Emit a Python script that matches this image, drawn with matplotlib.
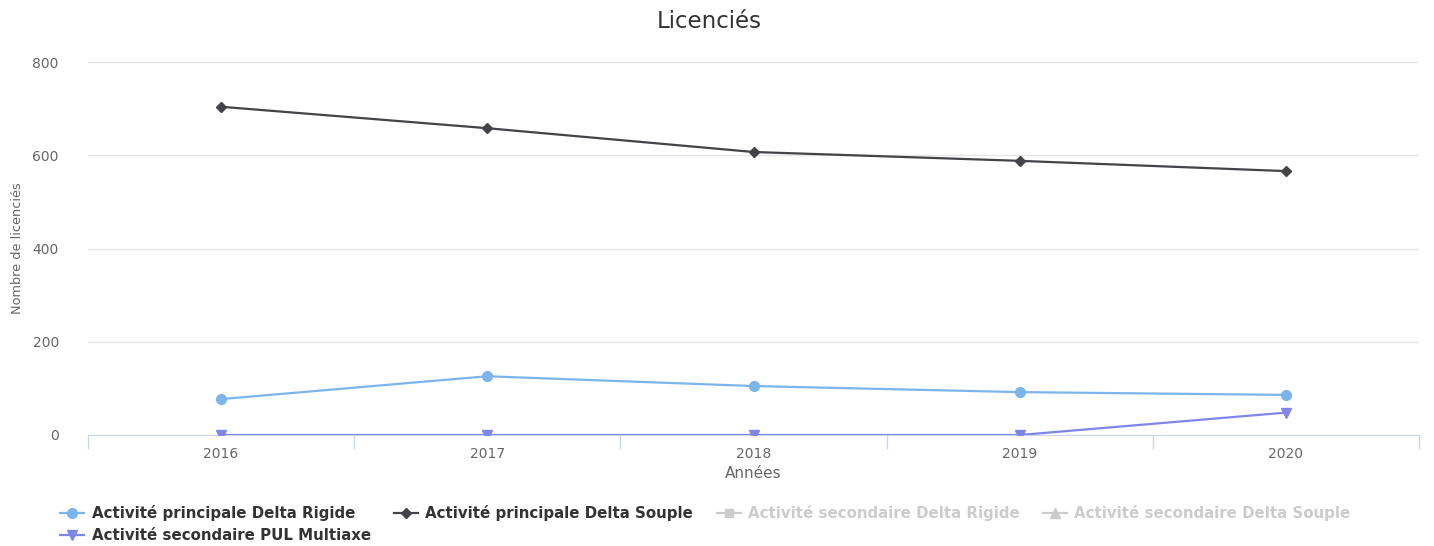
import matplotlib.pyplot as plt
from matplotlib.lines import Line2D
from matplotlib.ticker import FixedLocator

years = ["2016", "2017", "2018", "2019", "2020"]
delta_rigide = [77, 126, 105, 92, 86]
delta_souple = [704, 658, 607, 588, 566]
pul_multiaxe = [0, 0, 0, 0, 48]

y_ticks = [0, 200, 400, 600, 800]

fig = plt.figure(figsize=(14.34, 5.46), dpi=100)
ax = fig.add_axes([88 / 1434, 1 - 435 / 546, (1419 - 88) / 1434, (435 - 62) / 546])

x = list(range(len(years)))

ax.plot(x, delta_rigide, color="#7cb5ec", marker="o", markersize=7, linewidth=1.6, zorder=3)
ax.plot(x, delta_souple, color="#434348", marker="D", markersize=5, linewidth=1.6, zorder=3)
ax.plot(x, pul_multiaxe, color="#8085e9", marker="v", markersize=7, linewidth=1.6, zorder=3)

ax.set_xlim(-0.5, len(years) - 0.5)
ax.set_ylim(0, 800)
ax.set_xticks(x)
ax.set_xticklabels(years)
ax.xaxis.set_minor_locator(FixedLocator([i - 0.5 for i in range(len(years) + 1)]))
ax.tick_params(axis="x", which="major", length=0, pad=9, labelsize=10, labelcolor="#666666")
ax.tick_params(axis="x", which="minor", length=10, color="#ccd6eb", width=1)
ax.set_yticks(y_ticks)
ax.tick_params(axis="y", length=0, pad=21, labelsize=10, labelcolor="#666666")
for lbl in ax.get_xticklabels() + ax.get_yticklabels():
    lbl.set_fontfamily("DejaVu Sans")

ax.grid(axis="y", color="#e6e6e6", linewidth=1)
ax.set_axisbelow(True)
for side in ["top", "right", "left"]:
    ax.spines[side].set_visible(False)
ax.spines["bottom"].set_color("#ccd6eb")
ax.spines["bottom"].set_zorder(2)

fig.text(709 / 1434, 1 - 22 / 546, "Licenciés", ha="center", va="center",
         fontsize=16.5, color="#333333")
fig.text(18 / 1434, 1 - 248 / 546, "Nombre de licenciés", rotation=90,
         ha="center", va="center", fontsize=9.3, color="#666666")
fig.text(753 / 1434, 1 - 474 / 546, "Années", ha="center", va="center",
         fontsize=11, color="#666666")

handles = [
    Line2D([], [], color="#7cb5ec", marker="o", markersize=7, linewidth=1.6),
    Line2D([], [], color="#8085e9", marker="v", markersize=7, linewidth=1.6),
    Line2D([], [], color="#434348", marker="D", markersize=5, linewidth=1.6),
    Line2D([], [], color="#cccccc", marker="s", markersize=6, linewidth=1.6),
    Line2D([], [], color="#cccccc", marker="^", markersize=7, linewidth=1.6),
]
labels = [
    "Activité principale Delta Rigide",
    "Activité secondaire PUL Multiaxe",
    "Activité principale Delta Souple",
    "Activité secondaire Delta Rigide",
    "Activité secondaire Delta Souple",
]
leg = fig.legend(handles, labels, ncol=4, loc="upper left",
                 bbox_to_anchor=(60 / 1434, 1 - 505 / 546), frameon=False,
                 prop={"weight": "bold", "size": 10.8}, handlelength=1.6,
                 handletextpad=0.5, columnspacing=1.55, labelspacing=0.45,
                 borderaxespad=0, borderpad=0)
for txt, col in zip(leg.get_texts(), ["#333333", "#333333", "#333333", "#cccccc", "#cccccc"]):
    txt.set_color(col)

fig.savefig("out.png", dpi=100)
